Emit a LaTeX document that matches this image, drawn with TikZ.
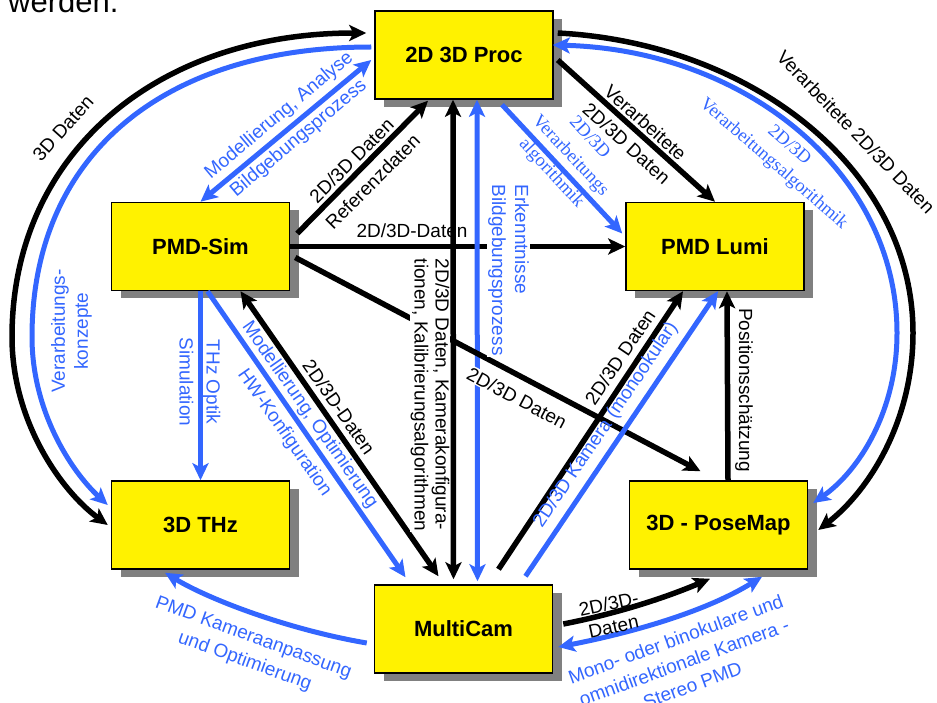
\documentclass[tikz,border=0pt]{standalone}
\usepackage{fontspec}
\setmainfont{Liberation Sans}
\newfontfamily\tnr{Liberation Serif}
\usetikzlibrary{arrows.meta,shadows,calc}
\definecolor{blu}{RGB}{51,102,255}
\definecolor{shadowgray}{RGB}{128,128,128}
\begin{document}
\begin{tikzpicture}[x=1pt, y=-1pt, >={Stealth[length=17pt,width=16pt,inset=4pt]},
  box/.style={draw, line width=1.5pt, fill=yellow, minimum width=178pt, minimum height=88pt, inner sep=0pt,
    font=\bfseries\fontsize{22}{26}\selectfont, drop shadow={shadow xshift=9pt, shadow yshift=-8pt, fill=shadowgray, opacity=1}},
  bk/.style={line width=5.5pt},
  bl/.style={line width=5pt, draw=blu},
  lbl/.style={font=\fontsize{19}{#1}\selectfont, inner sep=1pt, align=center}, lbl/.default=23,
  blbl/.style={lbl=#1, text=blu}, blbl/.default=23,
  slbl/.style={font=\tnr\fontsize{18.5}{#1}\selectfont, text=blu, inner sep=1pt, align=center}, slbl/.default=24]
  \useasboundingbox (0,0) rectangle (937,703);
  \node[font=\fontsize{31}{36}\selectfont, anchor=base west, inner sep=0pt] (t0) at (8,13) {werden.};

  \node[box] (proc) at (464,55) {2D 3D Proc};
  \node[box] (sim) at (200.5,246.5) {PMD-Sim};
  \node[box] (lumi) at (715,246.5) {PMD Lumi};
  \node[box] (thz) at (200.5,525) {3D THz};
  \node[box] (pose) at (718.5,525) {3D - PoseMap};
  \node[box] (multi) at (463.5,629) {MultiCam};

  \draw[bk,<->] ($(thz.west)+(-3,0)$) .. controls (60,490) and (12,420) .. (12,337) .. controls (12,155) and (155,33) .. ($(proc.west)+(-8,-22)$);
  \draw[bl,->] ($(proc.west)+(-3,-8)$) .. controls (161,47) and (32,157) .. (32,337) .. controls (32,410) and (70,470) .. ($(thz.west)+(-3,-20)$);
  \draw[bk,->] ($(proc.east)+(4,-22)$) .. controls (750,43) and (913,168) .. (913,333) .. controls (913,420) and (870,490) .. ($(pose.east)+(10,5)$);
  \draw[bl,<->] ($(proc.east)+(-1,-10)$) .. controls (745,50) and (897,172) .. (897,333) .. controls (897,410) and (860,470) .. ($(pose.east)+(5,-22)$);
  \draw[bl,<->] (sim.north) -- ($(proc.west)+(-3,5)$);
  \draw[bk,->] ($(sim.east)+(7,-13)$) -- ($(proc.south)+(-36,1)$);
  \draw[bk,->] (sim.east) -- (lumi.west);
  \draw[bk,<->] ($(proc.south)+(-11,0)$) -- ($(multi.north)+(-10,-5)$);
  \draw[bl,<->] ($(proc.south)+(13,0)$) -- ($(multi.north)+(14,-3)$);
  \draw[bl,->] ($(proc.south)+(38,5)$) -- ($(lumi.west)+(-3,-13)$);
  \draw[bk,->] ($(proc.east)+(4,5)$) -- (lumi.north);
  \draw[bl,->] (sim.south) -- (thz.north);
  \draw[bl,->] ($(sim.south)+(7,0)$) -- ($(multi.north)+(-58,-7)$);
  \draw[bk,<->] ($(sim.south)+(40,0)$) -- ($(multi.north)+(-25,-8)$);
  \draw[bk,->] ($(sim.east)+(5,11)$) -- ($(pose.north)+(-18,-9)$);
  \draw[bk,->] ($(multi.north)+(35,-15)$) -- ($(lumi.south)+(-32,0)$);
  \draw[bl,->] ($(multi.north)+(62,-8)$) -- ($(lumi.south)+(3,0)$);
  \draw[bk,->] ($(pose.north)+(9.5,0)$) -- ($(lumi.south)+(12,0)$);
  \draw[bl,->] ($(multi.west)+(-7,14)$) .. controls (290,630) and (210,600) .. ($(thz.south)+(-35.5,3)$);
  \draw[bk,->] ($(multi.east)+(10,-5)$) .. controls (610,615) and (660,600) .. ($(pose.south)+(-8.5,9)$);
  \draw[bl,<->] ($(multi.east)+(5,18)$) .. controls (620,635) and (700,615) .. ($(pose.south)+(43.5,7)$);

  \node[lbl, rotate=48] (t1) at (63,128) {3D Daten};
  \node[blbl, rotate=90] (t2) at (71.5,331) {Verarbeitungs-\\konzepte};
  \node[blbl=30, rotate=40] (t3) at (289,127) {Modellierung, Analyse\\Bildgebungsprozess};
  \node[lbl=30, rotate=45] (t4) at (362,171) {2D/3D Daten\\Referenzdaten};
  \node[lbl] (t5) at (412,231) {2D/3D-Daten};
  \node[lbl=28, rotate=-42] (t6) at (636,133) {Verarbeitete\\2D/3D Daten};
  \node[slbl=26, rotate=-47] (t7) at (570,156) {2D/3D\\Verarbeitungs\\algorithmik};
  \node[lbl, rotate=-46] (t8) at (856,132) {Verarbeitete 2D/3D Daten};
  \node[slbl=24, rotate=-41] (t9) at (781,155) {2D/3D\\Verarbeitungsalgorithmik};
  \node[blbl, rotate=-90, align=left, fill=white] (t10) at (508.5,270) {Erkenntnisse\\Bildgebungsprozess};
  \node[lbl=21, rotate=-90, align=left, fill=white, inner sep=0.5pt] (t11) at (430,395) {2D/3D Daten, Kamerakonfigura-\\tionen, Kalibrierungsalgorithmen};
  \node[lbl, rotate=-28, fill=white] (t12) at (517,398) {2D/3D Daten};
  \node[lbl, rotate=-55] (t13) at (339,407) {2D/3D-Daten};
  \node[blbl=31, rotate=-55] (t14) at (297,424) {Modellierung, Optimierung\\HW-Konfiguration};
  \node[blbl=27, rotate=-90] (t15) at (200,382) {THz Optik\\Simulation};
  \node[lbl, rotate=56] (t16) at (620,357) {2D/3D Daten};
  \node[blbl, rotate=56] (t17) at (606,425) {2D/3D Kamera (monookular)};
  \node[lbl, rotate=-90] (t18) at (744,390) {Positionsschätzung};
  \node[blbl=25, rotate=-20] (t19) at (249,650) {PMD Kameraanpassung\\und Optimierung};
  \node[lbl=23, rotate=12] (t20) at (611,615) {2D/3D-\\Daten};
  \node[blbl=24.5, rotate=20] (t21) at (684,662) {Mono- oder binokulare und\\omnidirektionale Kamera -\\Stereo PMD};
\end{tikzpicture}
\end{document}
